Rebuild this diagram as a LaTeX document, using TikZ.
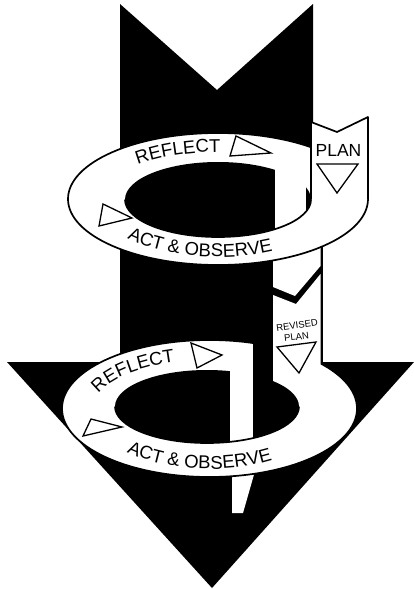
\documentclass[tikz,border=0pt]{standalone}
\usepackage{fontspec}
\setmainfont{Liberation Sans}
\usetikzlibrary{decorations.text}
\newcommand\ribfont{\fontsize{18.5}{18.5}\selectfont}
\newcommand\planfont{\fontsize{17.5}{17.5}\selectfont}
\begin{document}
\begin{tikzpicture}[x=1pt,y=-1pt,
  outl/.style={draw=black,line width=1.7pt,line join=round},
  tri/.style={draw=black,fill=white,line width=1.3pt,line join=miter},
  lbl/.style={font=\planfont,inner sep=0pt},
  small/.style={font=\fontsize{9.5}{10}\selectfont,inner sep=0pt},
  ribtext/.style={decorate,decoration={text along path,text={|\ribfont|#1},text align=center}}
]
\useasboundingbox (0,0) rectangle (414,589);

% big black arrow
\fill[black] (120,4) -- (217,90) -- (313,4) -- (313,362) -- (414,362) -- (212,588) -- (7,362) -- (120,362) -- cycle;
\fill[black] (312,238) rectangle (322.5,363);

% ribbon pieces behind the loops
\fill[white] (273,240) -- (320.5,240) -- (320.5,266) -- (295,296) -- (273,287) -- cycle;
\fill[white] (232,470) -- (255.3,470) -- (243,513) -- (232,513) -- cycle;

% ---------- upper loop ----------
\draw[outl,fill=white] (218,199) ellipse [x radius=150, y radius=66];
\fill[white] (311,122) -- (337,132) -- (368,117) -- (368,199) -- (311,199) -- cycle;
\draw[outl] (311,199.5) -- (311,122) -- (337,132) -- (368,117) -- (368,199);
\fill[black] (218,199.5) ellipse [x radius=93, y radius=37.5];
\fill[white] (275,158) rectangle (306,200);
\begin{scope}
  \clip (218,199.5) ellipse [x radius=93, y radius=37.5];
  \fill[white] (275,150) rectangle (306,250);
\end{scope}
\draw[outl] (311,199.5) arc[start angle=0, end angle=180, x radius=93, y radius=37.5];

% ---------- lower loop ----------
\draw[outl,fill=white] (209.5,408.5) ellipse [x radius=147.5, y radius=68.5];
\fill[white] (273,295) -- (296,304) -- (320.5,274) -- (320.5,386) -- (273,386) -- cycle;
\fill[black] (207,406.5) ellipse [x radius=92, y radius=36.5];
\fill[black] (253,330) rectangle (272.8,386);
\fill[white] (230,352) rectangle (253,406);
\begin{scope}
  \clip (207,406.5) ellipse [x radius=92, y radius=36.5];
  \fill[white] (230,330) rectangle (253,450);
\end{scope}
\draw[outl] (299,406.5) arc[start angle=0, end angle=180, x radius=92, y radius=36.5];

% ---------- triangles ----------
\draw[tri] (236,136) -- (230,156) -- (271,153) -- cycle;
\draw[tri] (103,204) -- (99,226) -- (132,218) -- cycle;
\draw[tri] (317,164) -- (358,164) -- (337,193) -- cycle;
\draw[tri] (191,343) -- (197,368) -- (222,355) -- cycle;
\draw[tri] (91,419) -- (83,436) -- (122,427) -- cycle;
\draw[tri] (277,347) -- (316,342) -- (299,373) -- cycle;

% ---------- texts ----------
\path[ribtext={REFLECT}] ([shift={(218,199)}]216:117 and 47) arc[start angle=216, end angle=279, x radius=117, y radius=47];
\path[ribtext={ACT {\&} OBSERVE}] ([shift={(218,199)}]148:124 and 58) arc[start angle=148, end angle=55, x radius=124, y radius=58];
\path[ribtext={REFLECT}] ([shift={(210,408)}]186:117 and 48) arc[start angle=186, end angle=258, x radius=117, y radius=48];
\path[ribtext={ACT {\&} OBSERVE}] ([shift={(210,408)}]145:120 and 61) arc[start angle=145, end angle=49, x radius=120, y radius=61];

\node[lbl] (plan) at (338.5,150) {PLAN};
\node[small,rotate=8] (revised) at (297,325) {REVISED};
\node[small,rotate=7] (revplan) at (296.5,337) {PLAN};
\end{tikzpicture}
\end{document}
